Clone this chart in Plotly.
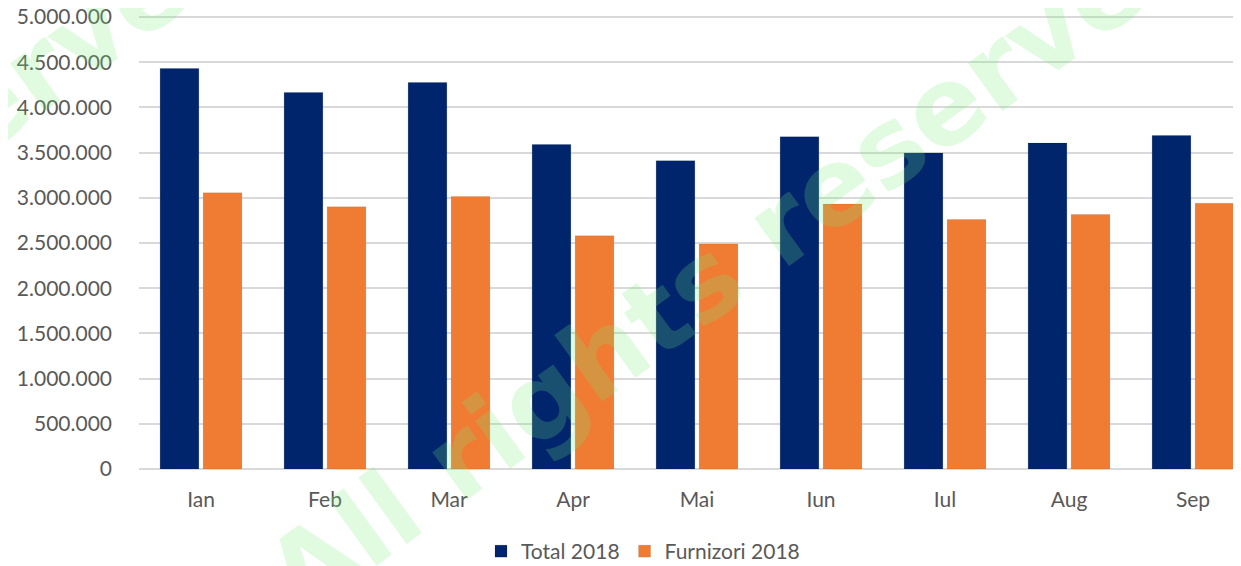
import plotly.graph_objects as go

months = ["Ian", "Feb", "Mar", "Apr", "Mai", "Iun", "Iul", "Aug", "Sep"]
total_2018 = [4430000, 4165000, 4275000, 3590000, 3410000, 3675000, 3495000, 3605000, 3690000]
furnizori_2018 = [3055000, 2900000, 3015000, 2580000, 2490000, 2930000, 2760000, 2815000, 2940000]
y_ticks = [0, 500000, 1000000, 1500000, 2000000, 2500000, 3000000, 3500000, 4000000, 4500000, 5000000]
watermark = "All rights reserved"

TXT = "#595959"
FONT = "Lato, 'Open Sans', sans-serif"

fig = go.Figure()
fig.add_trace(go.Bar(
    name="Total 2018", x=months, y=total_2018,
    marker=dict(color="#01256D", line=dict(color="rgba(0,0,0,0.12)", width=1)),
))
fig.add_trace(go.Bar(
    name="Furnizori 2018", x=months, y=furnizori_2018,
    marker=dict(color="#F07C33", line=dict(color="rgba(0,0,0,0.08)", width=1)),
))

# page has an 8px body margin; figure is sized so the plot area lands where the reference has it
for xp in [0.5427, -0.326]:
    fig.add_annotation(
        text=watermark, xref="paper", yref="paper", x=xp, y=0.465,
        xanchor="center", yanchor="middle", showarrow=False, textangle=-36,
        font=dict(family="DejaVu Sans", size=108, weight="bold", color="rgba(120,235,120,0.22)"),
    )

fig.update_layout(
    width=1233, height=558,
    margin=dict(l=131, r=0, t=7, b=97, autoexpand=False),
    paper_bgcolor="white", plot_bgcolor="white",
    separators=",.",
    barmode="group", bargap=0.306, bargroupgap=0.1,
    font=dict(family=FONT, size=21, color=TXT),
    legend=dict(
        orientation="h", xref="container", yref="container",
        x=0.515, y=0.026, xanchor="center", yanchor="middle",
        font=dict(family=FONT, size=21, color=TXT),
        itemwidth=30, tracegroupgap=0,
    ),
    showlegend=True,
)
fig.update_xaxes(
    range=[-0.5, 8.387], showgrid=False, showline=False, zeroline=False,
    ticks="", ticklabelstandoff=16, automargin=False,
    tickfont=dict(family=FONT, size=21, color=TXT),
)
fig.update_yaxes(
    range=[0, 5022000], tickvals=y_ticks, tickformat=",d",
    showgrid=True, gridcolor="#D9D9D9", gridwidth=2,
    zeroline=True, zerolinecolor="#D9D9D9", zerolinewidth=2,
    showline=False, ticks="", ticklabelstandoff=26, automargin=False,
    ticklabeloverflow="allow",
    tickfont=dict(family=FONT, size=21, color=TXT),
)

fig.write_html("out.html")
